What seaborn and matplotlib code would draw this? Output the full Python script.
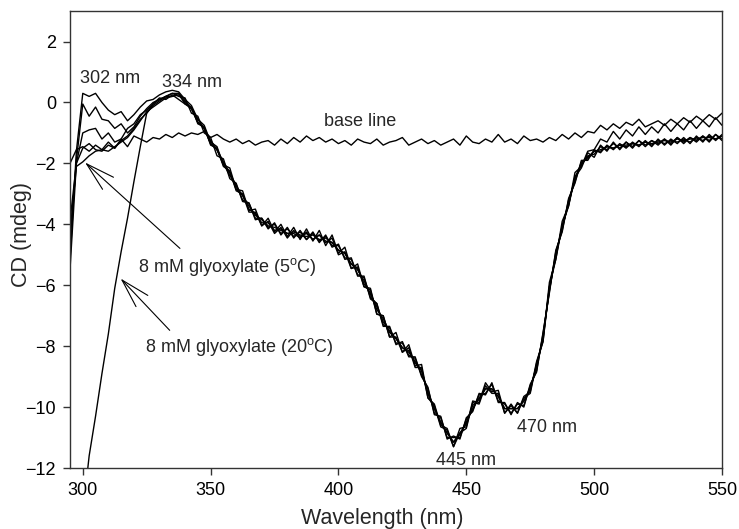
import numpy as np
import pandas as pd
import matplotlib
matplotlib.use("Agg")
import matplotlib.pyplot as plt
import seaborn as sns

# ---------------- data ----------------
wavelength = np.arange(295.0, 550.01, 2.5)

s1 = [-5.2, -1.6, 0.3, 0.2, 0.3, 0.0, -0.25, -0.4, -0.3, -0.6, -0.4, -0.15, 0.05, 0.1, 0.25, 0.35, 0.4,
      0.35, 0.1, -0.1, -0.55, -0.75, -1.3, -1.45, -2.05, -2.15, -2.85, -2.9, -3.55, -3.5, -4.05, -3.8, -4.25,
      -4.0, -4.4, -4.1, -4.5, -4.15, -4.55, -4.2, -4.7, -4.35, -4.95, -4.75, -5.45, -5.3, -6.05, -6.1, -6.95,
      -7.0, -7.7, -7.55, -8.2, -7.95, -8.65, -8.6, -9.7, -9.9, -10.6, -10.7, -11.3, -10.7, -10.65, -9.8,
      -9.85, -9.2, -9.5, -9.45, -10.2, -9.9, -10.2, -9.65, -9.5, -8.5, -7.85, -5.9, -5.15, -3.9, -3.4,
      -2.3, -2.1, -1.6, -1.55, -1.2, -1.3, -0.95, -1.2, -0.9, -1.1, -0.8, -1.05, -0.8, -1.0, -0.7, -0.95,
      -0.7, -0.9, -0.6, -0.85, -0.6, -0.8, -0.5, -0.75]

s2 = [-4.6, -1.9, -0.05, -0.45, -0.15, -0.55, -0.6, -0.85, -0.7, -1.0, -0.8, -0.45, -0.2, 0.0, 0.1, 0.2, 0.3,
      0.2, 0.15, -0.35, -0.45, -1.0, -1.15, -1.75, -1.85, -2.5, -2.65, -3.25, -3.3, -3.85, -3.8, -4.15, -3.95,
      -4.35, -4.1, -4.45, -4.2, -4.5, -4.25, -4.6, -4.35, -4.75, -4.65, -5.15, -5.1, -5.7, -5.7, -6.45, -6.6,
      -7.35, -7.35, -7.95, -7.85, -8.35, -8.35, -9.0, -9.35, -10.25, -10.3, -11.05, -10.95, -11.05, -10.35, -10.15,
      -9.55, -9.6, -9.2, -9.85, -9.85, -10.25, -9.85, -10.0, -9.25, -8.85, -7.55, -6.25, -4.85, -4.25, -3.15,
      -2.65, -1.9, -1.9, -1.55, -1.65, -1.4, -1.55, -1.35, -1.5, -1.3, -1.45, -1.25, -1.45, -1.2, -1.4, -1.2,
      -1.35, -1.15, -1.35, -1.1, -1.3, -1.05, -1.25, -1.05]

s3 = [-3.9, -2.0, -1.0, -0.9, -0.85, -1.2, -1.0, -1.3, -1.2, -0.85, -0.7, -0.4, -0.25, -0.05, 0.15, 0.1, 0.25,
      0.1, -0.05, -0.15, -0.7, -0.8, -1.4, -1.5, -2.1, -2.25, -2.9, -3.0, -3.6, -3.6, -4.05, -3.9, -4.3,
      -4.1, -4.45, -4.2, -4.4, -4.3, -4.5, -4.35, -4.6, -4.45, -5.0, -4.9, -5.45, -5.4, -6.05, -6.15, -6.95,
      -7.0, -7.7, -7.7, -8.2, -8.05, -8.7, -8.7, -9.7, -9.95, -10.65, -10.75, -11.3, -10.85, -10.7, -9.85,
      -9.9, -9.3, -9.55, -9.55, -10.2, -9.95, -10.2, -9.7, -9.55, -8.55, -7.85, -6.05, -5.15, -4.05, -3.4,
      -2.45, -2.15, -1.65, -1.8, -1.4, -1.6, -1.3, -1.55, -1.3, -1.5, -1.25, -1.45, -1.25, -1.4, -1.2, -1.4,
      -1.15, -1.35, -1.15, -1.3, -1.1, -1.3, -1.05, -1.25]

s4 = [-5.5, -2.0, -1.5, -1.35, -1.55, -1.6, -1.4, -1.5, -1.25, -1.1, -0.85, -0.55, -0.35, -0.1, 0.05, 0.2, 0.2,
      0.25, 0.0, -0.2, -0.65, -0.85, -1.35, -1.55, -2.0, -2.4, -2.7, -3.2, -3.3, -3.8, -3.8, -4.1, -4.0,
      -4.3, -4.15, -4.4, -4.25, -4.5, -4.3, -4.55, -4.4, -4.7, -4.7, -5.1, -5.15, -5.65, -5.75, -6.4, -6.6,
      -7.3, -7.4, -7.9, -7.9, -8.3, -8.4, -8.95, -9.4, -10.2, -10.35, -11.0, -11.0, -11.0, -10.4, -10.1,
      -9.6, -9.55, -9.25, -9.8, -9.9, -10.2, -9.9, -9.95, -9.3, -8.8, -7.6, -6.2, -4.9, -4.2, -3.2,
      -2.6, -1.95, -1.85, -1.6, -1.6, -1.45, -1.5, -1.4, -1.45, -1.35, -1.4, -1.3, -1.4, -1.25, -1.35, -1.25,
      -1.3, -1.2, -1.3, -1.15, -1.25, -1.1, -1.2, -1.1]

s5 = [-4.3, -2.1, -1.95, -1.75, -1.6, -1.55, -1.6, -1.45, -1.3, -1.15, -0.9, -0.6, -0.3, -0.15, 0.0, 0.15, 0.2,
      0.3, -0.05, -0.2, -0.65, -0.85, -1.35, -1.55, -2.05, -2.3, -2.85, -3.05, -3.5, -3.65, -3.95, -3.95, -4.2,
      -4.15, -4.3, -4.3, -4.45, -4.25, -4.5, -4.35, -4.55, -4.6, -4.85, -4.95, -5.3, -5.45, -5.95, -6.25, -6.8,
      -7.1, -7.55, -7.75, -8.05, -8.15, -8.55, -8.8, -9.55, -10.05, -10.5, -10.85, -11.15, -10.85, -10.55, -9.95,
      -9.75, -9.4, -9.4, -9.65, -10.05, -10.05, -10.05, -9.8, -9.4, -8.65, -7.75, -6.05, -5.05, -4.05, -3.35,
      -2.45, -2.05, -1.75, -1.7, -1.45, -1.55, -1.35, -1.5, -1.3, -1.45, -1.25, -1.4, -1.25, -1.35, -1.2, -1.35,
      -1.15, -1.3, -1.15, -1.25, -1.1, -1.25, -1.05, -1.2]

s6 = [np.nan, np.nan, -13.5, -11.6, -10.3, -8.9, -7.6, -6.1, -4.9, -3.8, -2.6, -1.45, -0.35, -0.05, 0.1, 0.2, 0.3,
      0.3, 0.05, -0.2, -0.55, -0.85, -1.25, -1.55, -1.95, -2.3, -2.75, -3.05, -3.4, -3.7, -3.85, -4.05, -4.1,
      -4.2, -4.3, -4.25, -4.35, -4.4, -4.35, -4.5, -4.45, -4.6, -4.85, -4.95, -5.3, -5.5, -5.85, -6.3, -6.7,
      -7.2, -7.5, -7.75, -8.05, -8.2, -8.5, -8.8, -9.55, -10.05, -10.5, -10.85, -11.15, -10.9, -10.5, -10.05,
      -9.7, -9.4, -9.4, -9.65, -10.05, -10.05, -10.05, -9.8, -9.4, -8.65, -7.7, -6.15, -5.0, -4.1, -3.3,
      -2.5, -2.0, -1.8, -1.6, -1.55, -1.45, -1.5, -1.4, -1.4, -1.35, -1.4, -1.3, -1.35, -1.3, -1.25, -1.3,
      -1.2, -1.25, -1.2, -1.2, -1.15, -1.15, -1.2, -1.1]

baseline = [-2.0, -1.55, -1.45, -1.6, -1.4, -1.55, -1.3, -1.5, -1.2, -1.45, -1.1, -1.2, -1.3, -1.15, -1.2, -1.05, -1.15,
            -1.0, -1.1, -1.0, -1.05, -0.95, -1.15, -1.05, -1.2, -1.3, -1.2, -1.35, -1.25, -1.4, -1.3, -1.25, -1.4,
            -1.2, -1.35, -1.15, -1.3, -1.1, -1.25, -1.15, -1.3, -1.2, -1.35, -1.25, -1.4, -1.2, -1.3, -1.35, -1.2,
            -1.4, -1.3, -1.25, -1.15, -1.4, -1.3, -1.2, -1.35, -1.25, -1.4, -1.3, -1.2, -1.4, -1.1, -1.3,
            -1.35, -1.2, -1.3, -1.05, -1.3, -1.2, -1.35, -1.1, -1.25, -1.2, -1.3, -1.15, -1.25, -1.05, -1.2,
            -1.0, -1.15, -0.95, -1.0, -0.75, -0.9, -0.7, -0.85, -0.65, -0.75, -0.55, -0.8, -0.7, -0.6, -0.75, -0.55,
            -0.7, -0.5, -0.65, -0.45, -0.6, -0.4, -0.55, -0.35]

curves = {"s1": s1, "s2": s2, "s3": s3, "s4": s4, "s5": s5, "s6": s6, "base": baseline}

x_ticks = [300, 350, 400, 450, 500, 550]
y_ticks = [-12, -10, -8, -6, -4, -2, 0, 2]

frames = []
for name, vals in curves.items():
    assert len(vals) == len(wavelength), (name, len(vals))
    frames.append(pd.DataFrame({"wavelength": wavelength, "cd": vals, "curve": name}))
df = pd.concat(frames, ignore_index=True).dropna()

# ---------------- style ----------------
sns.set_theme(style="ticks")
plt.rcParams["font.family"] = ["Liberation Sans", "DejaVu Sans"]
plt.rcParams["mathtext.fontset"] = "custom"
plt.rcParams["mathtext.rm"] = "Liberation Sans"
plt.rcParams["mathtext.it"] = "Liberation Sans"

fig = plt.figure(figsize=(7.39, 5.29), dpi=100)
ax = fig.add_axes([0.0947, 0.1153, 0.8823, 0.8637])

sns.lineplot(data=df, x="wavelength", y="cd", units="curve", estimator=None,
             color="black", lw=1.0, sort=False, ax=ax, legend=False)

ax.set_xlim(295, 550)
ax.set_ylim(-12, 3)
ax.set_xticks(x_ticks)
ax.set_yticks(y_ticks)
ax.tick_params(axis="both", direction="out", length=5, width=1.0, labelsize=13,
               colors="#333333", labelcolor="black", pad=5)
for sp in ax.spines.values():
    sp.set_color("#333333")
    sp.set_linewidth(1.0)
ax.set_xlabel("Wavelength (nm)", fontsize=15.5)
ax.set_ylabel("CD (mdeg)", fontsize=15.5)
ax.xaxis.set_label_coords(0.479, -0.088)
ax.yaxis.set_label_coords(-0.058, 0.51)

fs = 13
ax.text(310.6, 0.79, "302 nm", ha="center", va="center", fontsize=fs)
ax.text(342.7, 0.66, "334 nm", ha="center", va="center", fontsize=fs)
ax.text(408.3, -0.62, "base line", ha="center", va="center", fontsize=fs)
ax.text(450.0, -11.74, "445 nm", ha="center", va="center", fontsize=fs)
ax.text(481.7, -10.66, "470 nm", ha="center", va="center", fontsize=fs)

arrow = dict(arrowstyle="->,head_length=1.6,head_width=0.45", color="black", lw=0.8,
             shrinkA=0, shrinkB=0)
ax.annotate("", xy=(300.9, -1.97), xytext=(338.0, -4.79), arrowprops=arrow, fontsize=fs)
ax.text(356.5, -5.41, "8 mM glyoxylate (5$^{\\rm o}$C)", ha="center", va="center", fontsize=fs)
ax.annotate("", xy=(314.8, -5.78), xytext=(334.0, -7.48), arrowprops=arrow, fontsize=fs)
ax.text(361.4, -8.03, "8 mM glyoxylate (20$^{\\rm o}$C)", ha="center", va="center", fontsize=fs)

fig.savefig("out.png", dpi=100, facecolor="white")
